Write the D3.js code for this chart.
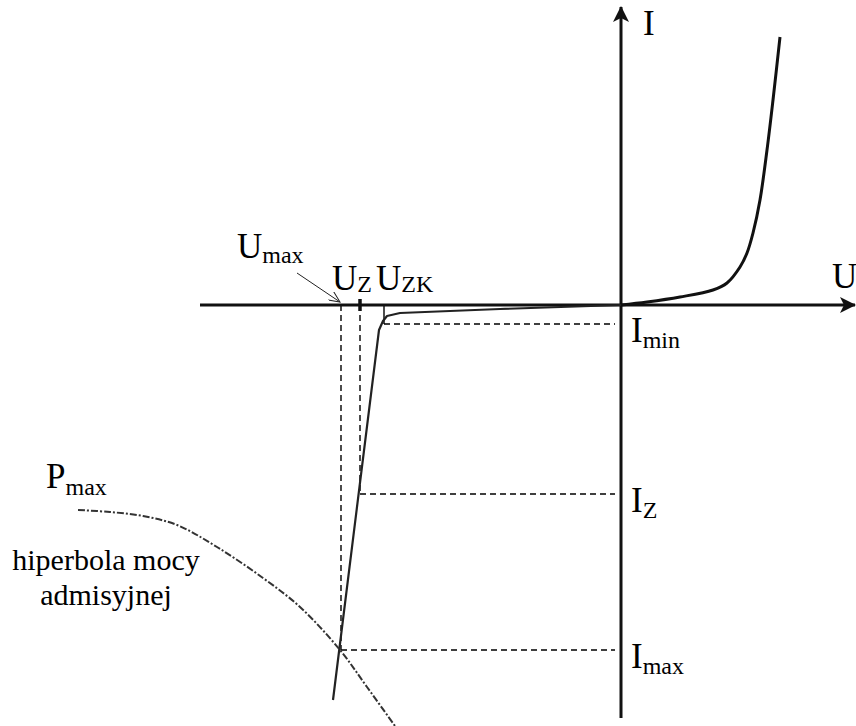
<!DOCTYPE html>
<html>
<head>
<meta charset="utf-8">
<script src="https://cdn.jsdelivr.net/npm/d3@7"></script>
<style>
  body { margin: 0; background: #fff; }
</style>
</head>
<body>
<script>
// forward branch of the diode characteristic (U, I in chart units)
const forwardU = [0, 2.6, 5.9, 9.2, 10.6, 11.9, 12.6, 13.2, 13.9, 14.6, 15.2, 15.9];
const forwardI = [0, 0.3, 0.8, 1.5, 2.2, 3.8, 5.2, 7.2, 10.5, 15.5, 20.5, 26.8];

// reverse (zener) branch
const reverseU = [0, -12.1, -22.1, -23.4, -23.8, -24.2, -28.8];
const reverseI = [0, -0.4, -0.8, -1.1, -1.6, -2.5, -39.5];

// admissible power hyperbola
const hyperU = [-54.3, -51.1, -47.8, -44.4, -40.4, -35.8, -32.1, -28.1, -25.4, -22.6];
const hyperI = [-20.5, -20.7, -21.1, -22.0, -24.2, -27.3, -30.2, -34.5, -38.2, -42.1];

// characteristic points
const voltLabels = ["max", "Z", "ZK"];
const voltU = [-28.0, -26.1, -23.7];
const currLabels = ["min", "Z", "max"];
const currI = [-1.9, -18.9, -34.5];
const currU = [-23.7, -26.1, -28.0];

const width = 856, height = 726;
const serif = 'Liberation Serif';

const svg = d3.select('body').append('svg')
  .attr('width', width)
  .attr('height', height);

const x = d3.scaleLinear().domain([-62.1, 23.5]).range([0, 856]);
const y = d3.scaleLinear().domain([30.5, -42.1]).range([0, 726]);

// arrow heads
const defs = svg.append('defs');
defs.append('marker')
  .attr('id', 'axisArrow')
  .attr('viewBox', '0 0 16 16')
  .attr('refX', 15).attr('refY', 8)
  .attr('markerWidth', 16).attr('markerHeight', 16)
  .attr('markerUnits', 'userSpaceOnUse')
  .attr('orient', 'auto')
  .append('path')
  .attr('d', 'M0,0 L16,8 L0,16 L4,8 Z')
  .attr('fill', '#111');

defs.append('marker')
  .attr('id', 'openArrow')
  .attr('viewBox', '0 0 12 10')
  .attr('refX', 11).attr('refY', 5)
  .attr('markerWidth', 12).attr('markerHeight', 10)
  .attr('markerUnits', 'userSpaceOnUse')
  .attr('orient', 'auto')
  .append('path')
  .attr('d', 'M0,0 L11,5 L0,10')
  .attr('fill', 'none')
  .attr('stroke', '#222')
  .attr('stroke-width', 1);

// dashed helper lines
const dash = '6,4';
voltLabels.forEach((name, i) => {
  if (name === 'ZK') {
    svg.append('line')
      .attr('x1', x(voltU[i])).attr('x2', x(voltU[i]))
      .attr('y1', y(0)).attr('y2', y(currI[0]))
      .attr('stroke', '#000').attr('stroke-width', 1.4);
  } else {
    const level = name === 'max' ? currI[2] : currI[1];
    svg.append('line')
      .attr('x1', x(voltU[i])).attr('x2', x(voltU[i]))
      .attr('y1', y(0)).attr('y2', y(level))
      .attr('stroke', '#000').attr('stroke-width', 1.4)
      .attr('stroke-dasharray', dash);
  }
});

currI.forEach((v, i) => {
  svg.append('line')
    .attr('x1', x(currU[i])).attr('x2', x(0) - 6)
    .attr('y1', y(v)).attr('y2', y(v))
    .attr('stroke', '#000').attr('stroke-width', 1.4)
    .attr('stroke-dasharray', dash);
});

// axes
svg.append('line')
  .attr('x1', 200).attr('x2', width - 1)
  .attr('y1', y(0)).attr('y2', y(0))
  .attr('stroke', '#111').attr('stroke-width', 3)
  .attr('marker-end', 'url(#axisArrow)');

svg.append('line')
  .attr('x1', x(0)).attr('x2', x(0))
  .attr('y1', 718).attr('y2', 7)
  .attr('stroke', '#111').attr('stroke-width', 3)
  .attr('marker-end', 'url(#axisArrow)');

// UZ tick mark
svg.append('line')
  .attr('x1', x(voltU[1])).attr('x2', x(voltU[1]))
  .attr('y1', y(0) - 6).attr('y2', y(0) + 6)
  .attr('stroke', '#111').attr('stroke-width', 3.5);

// curves
const fwd = forwardU.map((u, i) => [u, forwardI[i]]);
const rev = reverseU.map((u, i) => [u, reverseI[i]]);
const hyp = hyperU.map((u, i) => [u, hyperI[i]]);

svg.append('path')
  .datum(fwd)
  .attr('d', d3.line().x(d => x(d[0])).y(d => y(d[1])).curve(d3.curveCatmullRom))
  .attr('fill', 'none').attr('stroke', '#111').attr('stroke-width', 3);

svg.append('path')
  .datum(rev)
  .attr('d', d3.line().x(d => x(d[0])).y(d => y(d[1])))
  .attr('fill', 'none').attr('stroke', '#222').attr('stroke-width', 2.2)
  .attr('stroke-linejoin', 'round');

svg.append('path')
  .datum(hyp)
  .attr('d', d3.line().x(d => x(d[0])).y(d => y(d[1])).curve(d3.curveCatmullRom))
  .attr('fill', 'none').attr('stroke', '#333').attr('stroke-width', 2)
  .attr('stroke-dasharray', '7,2,2,2');

// Umax pointer
svg.append('line')
  .attr('x1', 297).attr('y1', 273)
  .attr('x2', x(voltU[0]) - 1).attr('y2', y(0) - 3)
  .attr('stroke', '#222').attr('stroke-width', 1)
  .attr('marker-end', 'url(#openArrow)');

// labels with subscripts
function label(px, py, main, sub, dy) {
  const t = svg.append('text').attr('x', px).attr('y', py)
    .attr('font-family', serif).attr('font-size', 35).attr('fill', '#000');
  t.append('tspan').text(main);
  if (sub) {
    t.append('tspan').text(sub).attr('dy', dy).attr('font-size', 24);
  }
}

label(237, 258, 'U', 'max', 5);
label(332, 290, 'U', 'Z', 2);
label(376, 290, 'U', 'ZK', 2);
label(643, 35, 'I');
label(832, 288, 'U');
currLabels.forEach((s, i) => {
  label(x(0) + 10, y(currI[i]) + 18, 'I', s, 6);
});
label(46, 488, 'P', 'max', 7);

svg.append('text')
  .attr('x', 106).attr('y', 570)
  .attr('text-anchor', 'middle')
  .attr('font-family', serif).attr('font-size', 30)
  .text('hiperbola mocy');
svg.append('text')
  .attr('x', 106).attr('y', 605)
  .attr('text-anchor', 'middle')
  .attr('font-family', serif).attr('font-size', 30)
  .text('admisyjnej');
</script>
</body>
</html>
